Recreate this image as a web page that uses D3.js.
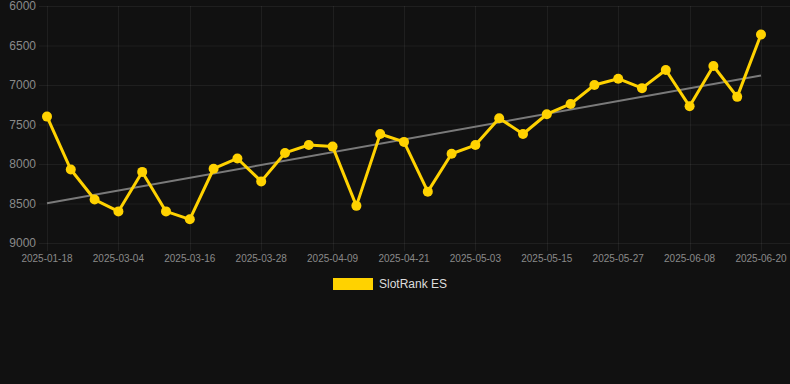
<!DOCTYPE html>
<html>
<head>
<meta charset="utf-8">
<script src="https://cdn.jsdelivr.net/npm/d3@7"></script>
<style>
    html, body { margin: 0; padding: 0; background: #111111; }
    svg { display: block; }
</style>
</head>
<body>
<svg id="chart" width="790" height="384"></svg>
<script>
// dates along the category axis (every third one is labelled)
const dates = [
    '2025-01-18', '2025-02-24', '2025-02-28', '2025-03-04', '2025-03-08', '2025-03-12',
    '2025-03-16', '2025-03-20', '2025-03-24', '2025-03-28', '2025-04-01', '2025-04-05',
    '2025-04-09', '2025-04-13', '2025-04-17', '2025-04-21', '2025-04-25', '2025-04-29',
    '2025-05-03', '2025-05-07', '2025-05-11', '2025-05-15', '2025-05-19', '2025-05-23',
    '2025-05-27', '2025-05-31', '2025-06-04', '2025-06-08', '2025-06-12', '2025-06-16',
    '2025-06-20',
];
const ranks = [
    7400, 8070, 8450, 8600, 8100, 8600, 8700, 8060, 7930, 8220,
    7860, 7760, 7780, 8530, 7620, 7720, 8350, 7870, 7760, 7420,
    7620, 7370, 7240, 7000, 6920, 7040, 6810, 7270, 6760, 7150,
    6360,
];
const yTicks = [6000, 6500, 7000, 7500, 8000, 8500, 9000];
const seriesName = 'SlotRank ES';

const svg = d3.select('#chart');

const x = d3.scalePoint().domain(dates).range([47, 761]);
const y = d3.scaleLinear().domain([6000, 9000]).range([6, 243]);

// least squares trend over the point index
const n = ranks.length;
const xs = d3.range(n);
const mx = d3.mean(xs);
const my = d3.mean(ranks);
const slope = d3.sum(xs, (i) => (i - mx) * (ranks[i] - my)) / d3.sum(xs, (i) => (i - mx) ** 2);
const trend = [0, n - 1].map((i) => ({ d: dates[i], v: my + slope * (i - mx) }));

const gridColor = 'rgba(255,255,255,0.06)';
const textColor = '#8a8a8a';

// horizontal grid + y labels
const yAxis = svg.append('g');
yAxis.selectAll('line')
    .data(yTicks)
    .enter()
    .append('line')
    .attr('x1', 39)
    .attr('x2', 790)
    .attr('y1', (d) => y(d) + 0.5)
    .attr('y2', (d) => y(d) + 0.5)
    .attr('stroke', gridColor);
yAxis.selectAll('text')
    .data(yTicks)
    .enter()
    .append('text')
    .attr('x', 36)
    .attr('y', (d) => y(d))
    .attr('dy', '0.35em')
    .attr('text-anchor', 'end')
    .attr('fill', textColor)
    .style('font', '12px Arial, Helvetica, sans-serif')
    .text((d) => d);

// vertical grid at the labelled dates + x labels
const labelled = dates.filter((d, i) => i % 3 === 0);
const xAxis = svg.append('g');
xAxis.selectAll('line')
    .data(labelled)
    .enter()
    .append('line')
    .attr('x1', (d) => Math.round(x(d)) + 0.5)
    .attr('x2', (d) => Math.round(x(d)) + 0.5)
    .attr('y1', 6)
    .attr('y2', 251)
    .attr('stroke', gridColor);
xAxis.selectAll('text')
    .data(labelled)
    .enter()
    .append('text')
    .attr('x', (d) => x(d))
    .attr('y', 262)
    .attr('text-anchor', 'middle')
    .attr('fill', textColor)
    .style('font', '10px Arial, Helvetica, sans-serif')
    .text((d) => d);

// trend line
svg.append('path')
    .datum(trend)
    .attr('fill', 'none')
    .attr('stroke', '#7a7a7a')
    .attr('stroke-width', 2)
    .attr('d', d3.line().x((d) => x(d.d)).y((d) => y(d.v)));

// series
const yellow = '#ffd200';
svg.append('path')
    .datum(ranks)
    .attr('fill', 'none')
    .attr('stroke', yellow)
    .attr('stroke-width', 3)
    .attr('stroke-linejoin', 'round')
    .attr('d', d3.line().x((d, i) => x(dates[i])).y((d) => y(d)));

svg.append('g')
    .selectAll('circle')
    .data(ranks)
    .enter()
    .append('circle')
    .attr('cx', (d, i) => x(dates[i]))
    .attr('cy', (d) => y(d))
    .attr('r', 5)
    .attr('fill', yellow);

// legend
const legend = svg.append('g');
legend.append('rect')
    .attr('x', 333)
    .attr('y', 278)
    .attr('width', 40)
    .attr('height', 12)
    .attr('fill', yellow);
legend.append('text')
    .attr('x', 379)
    .attr('y', 284)
    .attr('dy', '0.35em')
    .attr('fill', '#dddddd')
    .style('font', '12px Arial, Helvetica, sans-serif')
    .text(seriesName);
</script>
</body>
</html>
